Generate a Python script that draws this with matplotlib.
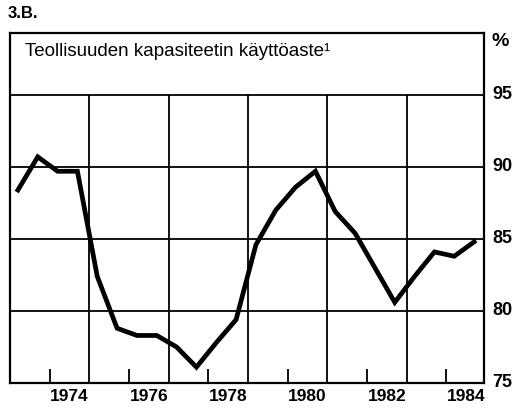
import matplotlib
matplotlib.use("Agg")
import matplotlib.pyplot as plt

plt.rcParams['font.family'] = ['Liberation Sans', 'DejaVu Sans']

# half-year observations (plotted position in years)
times = [1973.2, 1973.7, 1974.2, 1974.7, 1975.2, 1975.7, 1976.2, 1976.7,
         1977.2, 1977.7, 1978.2, 1978.7, 1979.2, 1979.7, 1980.2, 1980.7,
         1981.2, 1981.7, 1982.2, 1982.7, 1983.2, 1983.7, 1984.2, 1984.7]
usage = [88.4, 90.7, 89.7, 89.7, 82.4, 78.8, 78.3, 78.3,
         77.5, 76.1, 77.8, 79.4, 84.6, 87.0, 88.6, 89.7,
         86.9, 85.4, 83.0, 80.6, 82.4, 84.1, 83.8, 84.8]

year_labels = [1974, 1976, 1978, 1980, 1982, 1984]
grid_years = [1975, 1977, 1979, 1981, 1983]
y_ticks = [75, 80, 85, 90, 95]

fig = plt.figure(figsize=(5.21, 4.11), dpi=100)
ax = fig.add_axes([10 / 521, 28 / 411, 474 / 521, 350 / 411])
ax.set_xlim(1973, 1984.95)
ax.set_ylim(75, 99.3)

# grid
for y in y_ticks[1:]:
    ax.axhline(y, color='black', lw=1.3, zorder=1)
ax.vlines(grid_years, 75, 95, color='black', lw=1.3, zorder=1)
ax.vlines(year_labels, 75, 76, color='black', lw=1.3, zorder=1)

ax.plot(times, usage, color='black', lw=3.4, solid_joinstyle='miter', zorder=3)

for s in ax.spines.values():
    s.set_linewidth(1.6)
ax.set_xticks([])
ax.set_yticks([])

for yr in year_labels:
    ax.text(yr + 0.5, 74.6, str(yr), ha='center', va='top',
            fontsize=12.5, fontweight='bold')
for v in y_ticks:
    ax.text(1985.15, v, str(v), ha='left', va='center',
            fontsize=13, fontweight='bold')
ax.text(1985.15, 98.7, '%', ha='left', va='center', fontsize=14, fontweight='bold')

ax.text(1973.37, 98.0, 'Teollisuuden kapasiteetin käyttöaste\u00b9', ha='left',
        va='center', fontsize=13.5)
fig.text(8 / 521, 1 - 13 / 411, '3.B.', ha='left', va='center',
         fontsize=12, fontweight='bold')

fig.savefig('out.png', dpi=100)
